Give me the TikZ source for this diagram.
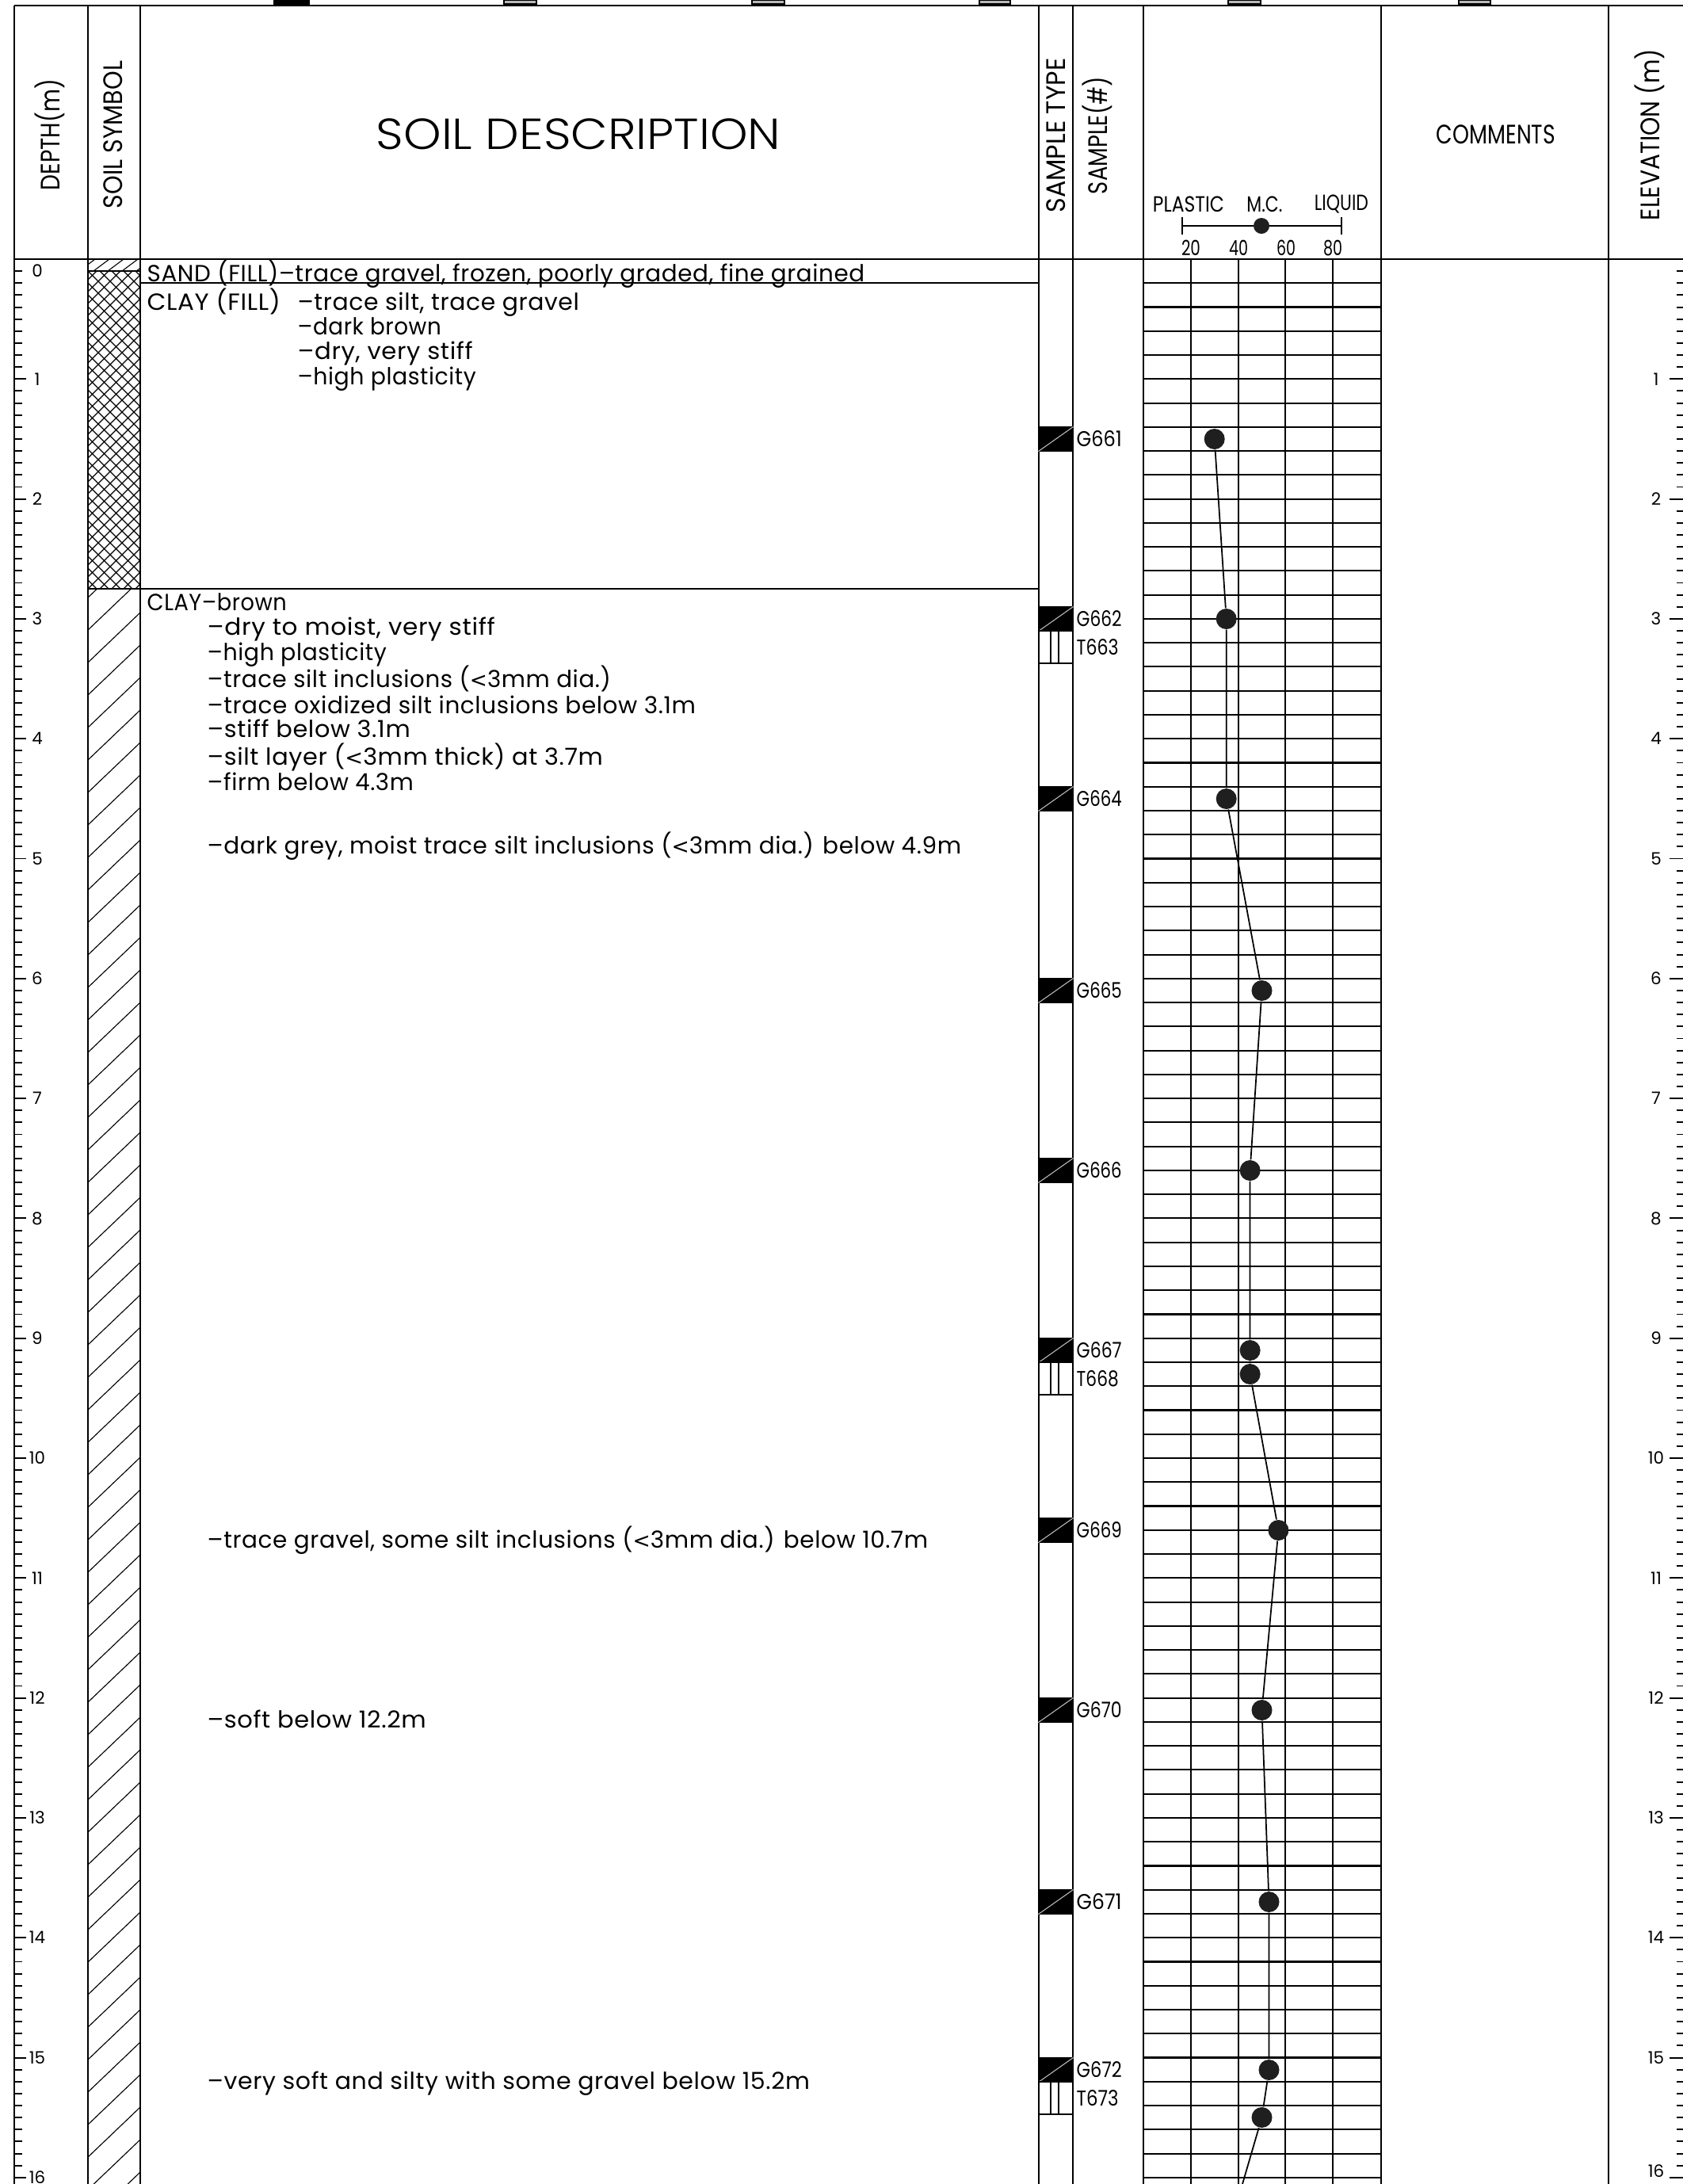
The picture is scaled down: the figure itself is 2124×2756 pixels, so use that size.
\documentclass[tikz,border=0pt]{standalone}
\usepackage{graphicx}
\usepackage{fontspec}
\setmainfont{Poppins}
\newfontfamily\lightf{Poppins Light}
\newfontfamily\bodyf{Poppins}[LetterSpace=2]
\newfontfamily\ltfont{DejaVu Sans}
\newcommand\lt{{\ltfont\addfontfeatures{Scale=0.9}<}}
\newlength\fitlen
\newcommand\fitw[2]{\settowidth{\fitlen}{#2}\pgfmathsetmacro\fitr{(#1)/\fitlen}\scalebox{\fitr}[1]{#2}}
\begin{document}
\begin{tikzpicture}[x=0.01cm,y=-0.01cm,
  frameln/.style={line width=0.6pt},
  gridln/.style={line width=0.6pt},
  tickln/.style={line width=0.55pt},
  hatchln/.style={line width=0.32pt},
  desc/.style={anchor=base west, inner sep=0pt, font=\bodyf\fontsize{8.4}{9}\selectfont},
  hdr/.style={inner sep=0pt, font=\fontsize{9.6}{10}\selectfont},
  vhdr/.style={hdr, rotate=90},
  legtxt/.style={inner sep=0pt, font=\fontsize{7.9}{9}\selectfont},
  numtxt/.style={inner sep=0pt, font=\fontsize{7.5}{8}\selectfont},
  slabel/.style={anchor=west, inner sep=0pt, font=\fontsize{7.7}{8}\selectfont},
  dlabel/.style={inner sep=0pt, font=\fontsize{6.1}{7}\selectfont},
  gbox/.style={rectangle, draw=black, line width=0.3pt, minimum width=4.3mm, minimum height=3mm, inner sep=0pt},
  gdiag/.style={gray!50, line width=0.3pt},
  tbox/.style={rectangle, draw=black, fill=white, line width=0.45pt, minimum width=4.3mm, minimum height=4.1mm, inner sep=0pt},
  mcdot/.style={circle, fill=black!88, inner sep=0pt, minimum size=2.6mm},
  mcline/.style={line width=0.5pt}
]
\fill[white] (0,0) rectangle (2124,2756);
\useasboundingbox (0,0) rectangle (2124,2756);

% slivers at the top edge
\foreach \a/\b/\c in {346/390/black, 636/677/gray!55, 949/990/gray!55, 1236/1275/gray!55, 1550/1591/gray!55, 1841/1881/gray!55}
  \draw[line width=0.4pt, fill=\c] (\a,0) rectangle (\b,5);

% soil symbol hatching
\begin{scope}
  \clip (111,327) rectangle (177,342);
  \foreach \i in {0,...,5} \draw[hatchln] ({100+18*\i},342) -- ({120+18*\i},327);
\end{scope}
\begin{scope}
  \clip (111,342) rectangle (177,743);
  \foreach \i in {-28,...,5} {
    \draw[hatchln] ({111+15*\i},743) -- ({512+15*\i},342);
    \draw[hatchln] ({111+15*\i},342) -- ({512+15*\i},743);
  }
\end{scope}
\begin{scope}
  \clip (111,743) rectangle (177,2756);
  \foreach \j in {-2,...,50} \draw[hatchln] (111,{754+41*\j}) -- (177,{691+41*\j});
\end{scope}

% plot grid
\foreach \k in {1,...,80} \draw[gridln] (1443,{327+30.26*\k}) -- (1743,{327+30.26*\k});
\foreach \v in {1502.8,1562.6,1622.4,1682.2} \draw[gridln] (\v,327) -- (\v,2756);

% frame
\draw[frameln] (18,7) -- (2124,7);
\draw[frameln] (18,327) -- (2124,327);
\foreach \v in {18,111,177,1311,1354,1443,1743,2030} \draw[frameln] (\v,7) -- (\v,2756);
\draw[frameln] (111,342) -- (177,342);
\draw[frameln] (177,357) -- (1311,357);
\draw[frameln] (111,743) -- (1311,743);

% depth and elevation ticks
\foreach \k in {1,...,160} {
  \draw[tickln] (18,{327+15.13*\k}) -- (28,{327+15.13*\k});
  \draw[tickln] (2116,{327+15.13*\k}) -- (2124,{327+15.13*\k});
}
\foreach \m in {1,...,16} {
  \draw[tickln] (18,{327+151.3*\m}) -- (33,{327+151.3*\m});
  \draw[tickln] (2107,{327+151.3*\m}) -- (2124,{327+151.3*\m});
}
\node[dlabel] (dl0) at (47,342) {0};
\foreach \m in {1,...,16} \node[dlabel] (dl\m) at (47,{327+151.3*\m}) {\m};
\foreach \m in {1,...,15} \node[dlabel] (el\m) at (2090,{327+151.3*\m}) {\m};
\node[dlabel] (el16) at (2090,2740) {16};

% header
\node[vhdr] (hdepth) at (63,170) {\fitw{14mm}{DEPTH(m)}};
\node[vhdr] (hsym) at (143,170) {\fitw{18.6mm}{SOIL SYMBOL}};
\node[inner sep=0pt, font=\lightf\fontsize{15.6}{18}\selectfont] (hdesc) at (730,169) {\fitw{51mm}{SOIL DESCRIPTION}};
\node[vhdr] (htype) at (1333,171) {\fitw{19.5mm}{SAMPLE TYPE}};
\node[vhdr] (hnum) at (1385,171) {\fitw{14.8mm}{SAMPLE(\#)}};
\node[hdr] (hcom) at (1888,170) {\fitw{15mm}{COMMENTS}};
\node[vhdr] (helev) at (2082,170) {\fitw{21.6mm}{ELEVATION (m)}};

% legend
\node[legtxt] (lplastic) at (1500,258) {\fitw{9mm}{PLASTIC}};
\node[legtxt] (lmc) at (1596,258) {\fitw{4.5mm}{M.C.}};
\node[legtxt] (lliquid) at (1693,258) {\fitw{6.8mm}{LIQUID}};
\coordinate (sl) at (1492,285);
\coordinate (sr) at (1693,285);
\draw[tickln] (sl) -- (sr);
\draw[tickln] (sl) ++(0,-11) -- ++(0,22);
\draw[tickln] (sr) ++(0,-11) -- ++(0,22);
\node[mcdot, minimum size=2mm] (lmcdot) at (1592,285) {};
\node[numtxt] (n20) at (1503,313) {\fitw{2.4mm}{20}};
\node[numtxt] (n40) at (1563,313) {\fitw{2.4mm}{40}};
\node[numtxt] (n60) at (1623,313) {\fitw{2.4mm}{60}};
\node[numtxt] (n80) at (1682,313) {\fitw{2.4mm}{80}};

% soil description
\node[desc] (t1) at (185,355) {\fitw{90.5mm}{SAND (FILL)–trace gravel, frozen, poorly graded, fine grained}};
\node[desc] (t2a) at (185,391) {\fitw{16.8mm}{CLAY (FILL)}};
\node[desc] (t2b) at (375,391) {\fitw{35.5mm}{–trace silt, trace gravel}};
\node[desc] (t3) at (375,422) {\fitw{18.1mm}{–dark brown}};
\node[desc] (t4) at (375,453) {\fitw{22.1mm}{–dry, very stiff}};
\node[desc] (t5) at (375,485) {\fitw{22.5mm}{–high plasticity}};
\node[desc] (t6) at (185,770) {\fitw{17.6mm}{CLAY–brown}};
\node[desc] (t7) at (261,801) {\fitw{36.3mm}{–dry to moist, very stiff}};
\node[desc] (t8) at (261,833) {\fitw{22.6mm}{–high plasticity}};
\node[desc] (t9) at (261,867) {\fitw{50.9mm}{–trace silt inclusions (\lt3mm dia.)}};
\node[desc] (t10) at (261,900) {\fitw{61.6mm}{–trace oxidized silt inclusions below 3.1m}};
\node[desc] (t11) at (261,930) {\fitw{25.6mm}{–stiff below 3.1m}};
\node[desc] (t12) at (261,965) {\fitw{49.9mm}{–silt layer (\lt3mm thick) at 3.7m}};
\node[desc] (t13) at (261,997) {\fitw{26mm}{–firm below 4.3m}};
\node[desc] (t14) at (261,1077) {\fitw{95.1mm}{–dark grey, moist trace silt inclusions (\lt3mm dia.) below 4.9m}};
\node[desc] (t15) at (261,1953) {\fitw{90.9mm}{–trace gravel, some silt inclusions (\lt3mm dia.) below 10.7m}};
\node[desc] (t16) at (261,2180) {\fitw{27.6mm}{–soft below 12.2m}};
\node[desc] (t17) at (261,2636) {\fitw{76mm}{–very soft and silty with some gravel below 15.2m}};

% samples
\foreach \n/\y in {661/554, 662/781, 664/1008, 665/1250, 666/1477, 667/1704, 669/1931, 670/2158, 671/2400, 672/2612} {
  \node[gbox] (sg\n) at (1332.5,\y) {};
  \fill[black] (sg\n.south west) rectangle (sg\n.north east);
  \draw[gdiag] (sg\n.south west) -- (sg\n.north east);
  \node[slabel] (lg\n) at (1358,\y) {\fitw{5.7mm}{G\n}};
}
\foreach \n/\y in {663/816.5, 668/1739.5, 673/2647.5} {
  \node[tbox] (st\n) at (1332.5,\y) {};
  \draw[line width=0.45pt] ([xshift=1.6mm]st\n.south west) -- ([xshift=1.6mm]st\n.north west)
    ([xshift=2.6mm]st\n.south west) -- ([xshift=2.6mm]st\n.north west);
  \node[slabel] (lt\n) at (1358,\y) {\fitw{5.3mm}{T\n}};
}

% moisture content
\node[mcdot] (m661) at (1532.7,554) {};
\node[mcdot] (m662) at (1547.7,781) {};
\node[mcdot] (m664) at (1547.7,1008) {};
\node[mcdot] (m665) at (1592.5,1250) {};
\node[mcdot] (m666) at (1577.6,1477) {};
\node[mcdot] (m667) at (1577.6,1704) {};
\node[mcdot] (m668) at (1577.6,1734) {};
\node[mcdot] (m669) at (1613.4,1931) {};
\node[mcdot] (m670) at (1592.5,2158) {};
\node[mcdot] (m671) at (1601.5,2400) {};
\node[mcdot] (m672) at (1601.5,2612) {};
\node[mcdot] (m673) at (1592.5,2672) {};
\coordinate (mend) at (1568,2756);
\draw[mcline] (m661) -- (m662) -- (m664) -- (m665) -- (m666) -- (m667) -- (m668) -- (m669) -- (m670) -- (m671) -- (m672) -- (m673) -- (mend);
\end{tikzpicture}
\end{document}
